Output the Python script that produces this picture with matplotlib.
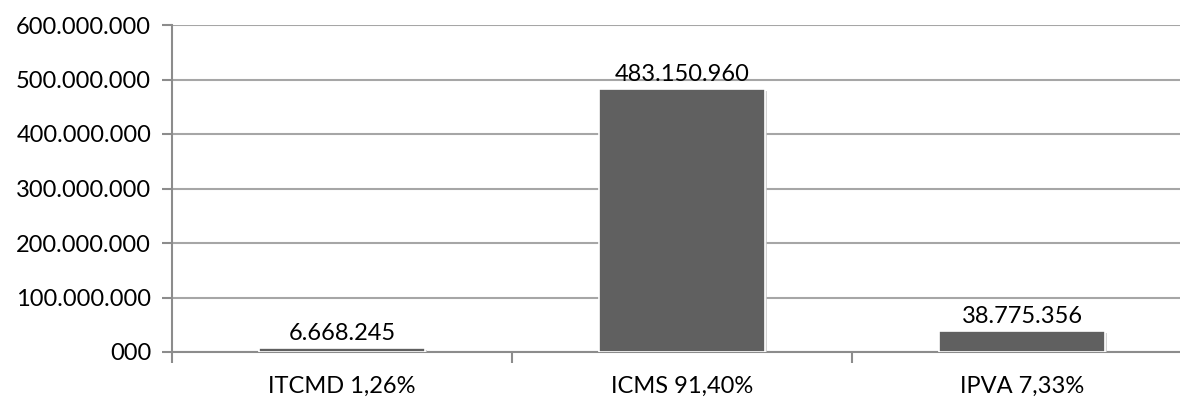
import matplotlib
matplotlib.use('Agg')
import matplotlib.pyplot as plt
import matplotlib.patheffects as pe
import numpy as np

# Datos
categorias = ['ITCMD 1,26%', 'ICMS 91,40%', 'IPVA 7,33%']
valores = [6668245, 483150960, 38775356]
etiquetas = ['6.668.245', '483.150.960', '38.775.356']
ticks_y = [0, 100000000, 200000000, 300000000, 400000000, 500000000, 600000000]
ticks_y_txt = ['000', '100.000.000', '200.000.000', '300.000.000',
               '400.000.000', '500.000.000', '600.000.000']

plt.rcParams['font.family'] = ['Lato', 'DejaVu Sans']

fig = plt.figure(figsize=(11.8, 4), dpi=100)
ax = fig.add_axes([172 / 1180, 48 / 400, 1020 / 1180, 327 / 400])

x = np.arange(len(categorias))
barras = ax.bar(x, valores, width=0.49, color='#606060', edgecolor='white',
                linewidth=1.2, zorder=3)
for b in barras:
    b.set_path_effects([pe.SimplePatchShadow(offset=(1.5, -1.5), shadow_rgbFace='#c8c8c8', alpha=0.8),
                        pe.Normal()])

# Etiquetas de valor
for xi, v, t in zip(x, valores, etiquetas):
    ax.annotate(t, (xi, v), xytext=(0, 3), textcoords='offset points',
                ha='center', va='bottom', fontsize=17, color='black')

# Ejes
ax.set_xlim(-0.5, 2.5)
ax.set_ylim(0, 600000000)
ax.set_yticks(ticks_y)
ax.set_yticklabels(ticks_y_txt, fontsize=17)
ax.set_xticks(x)
ax.set_xticklabels(categorias, fontsize=17)
ax.set_xticks([-0.5, 0.5, 1.5, 2.5], minor=True)
ax.tick_params(axis='x', which='major', length=0, pad=17)
ax.tick_params(axis='x', which='minor', length=8, width=1.5, color='#8c8c8c', direction='out')
ax.tick_params(axis='y', length=7, width=1.5, color='#8c8c8c', pad=8)

ax.grid(axis='y', color='#a6a6a6', linewidth=1.5, zorder=0)
ax.set_axisbelow(True)
for s in ['top', 'right']:
    ax.spines[s].set_visible(False)
ax.spines['left'].set_color('#8c8c8c')
ax.spines['left'].set_linewidth(1.5)
ax.spines['bottom'].set_color('#8c8c8c')
ax.spines['bottom'].set_linewidth(1.5)

fig.savefig('out.png', dpi=100)
